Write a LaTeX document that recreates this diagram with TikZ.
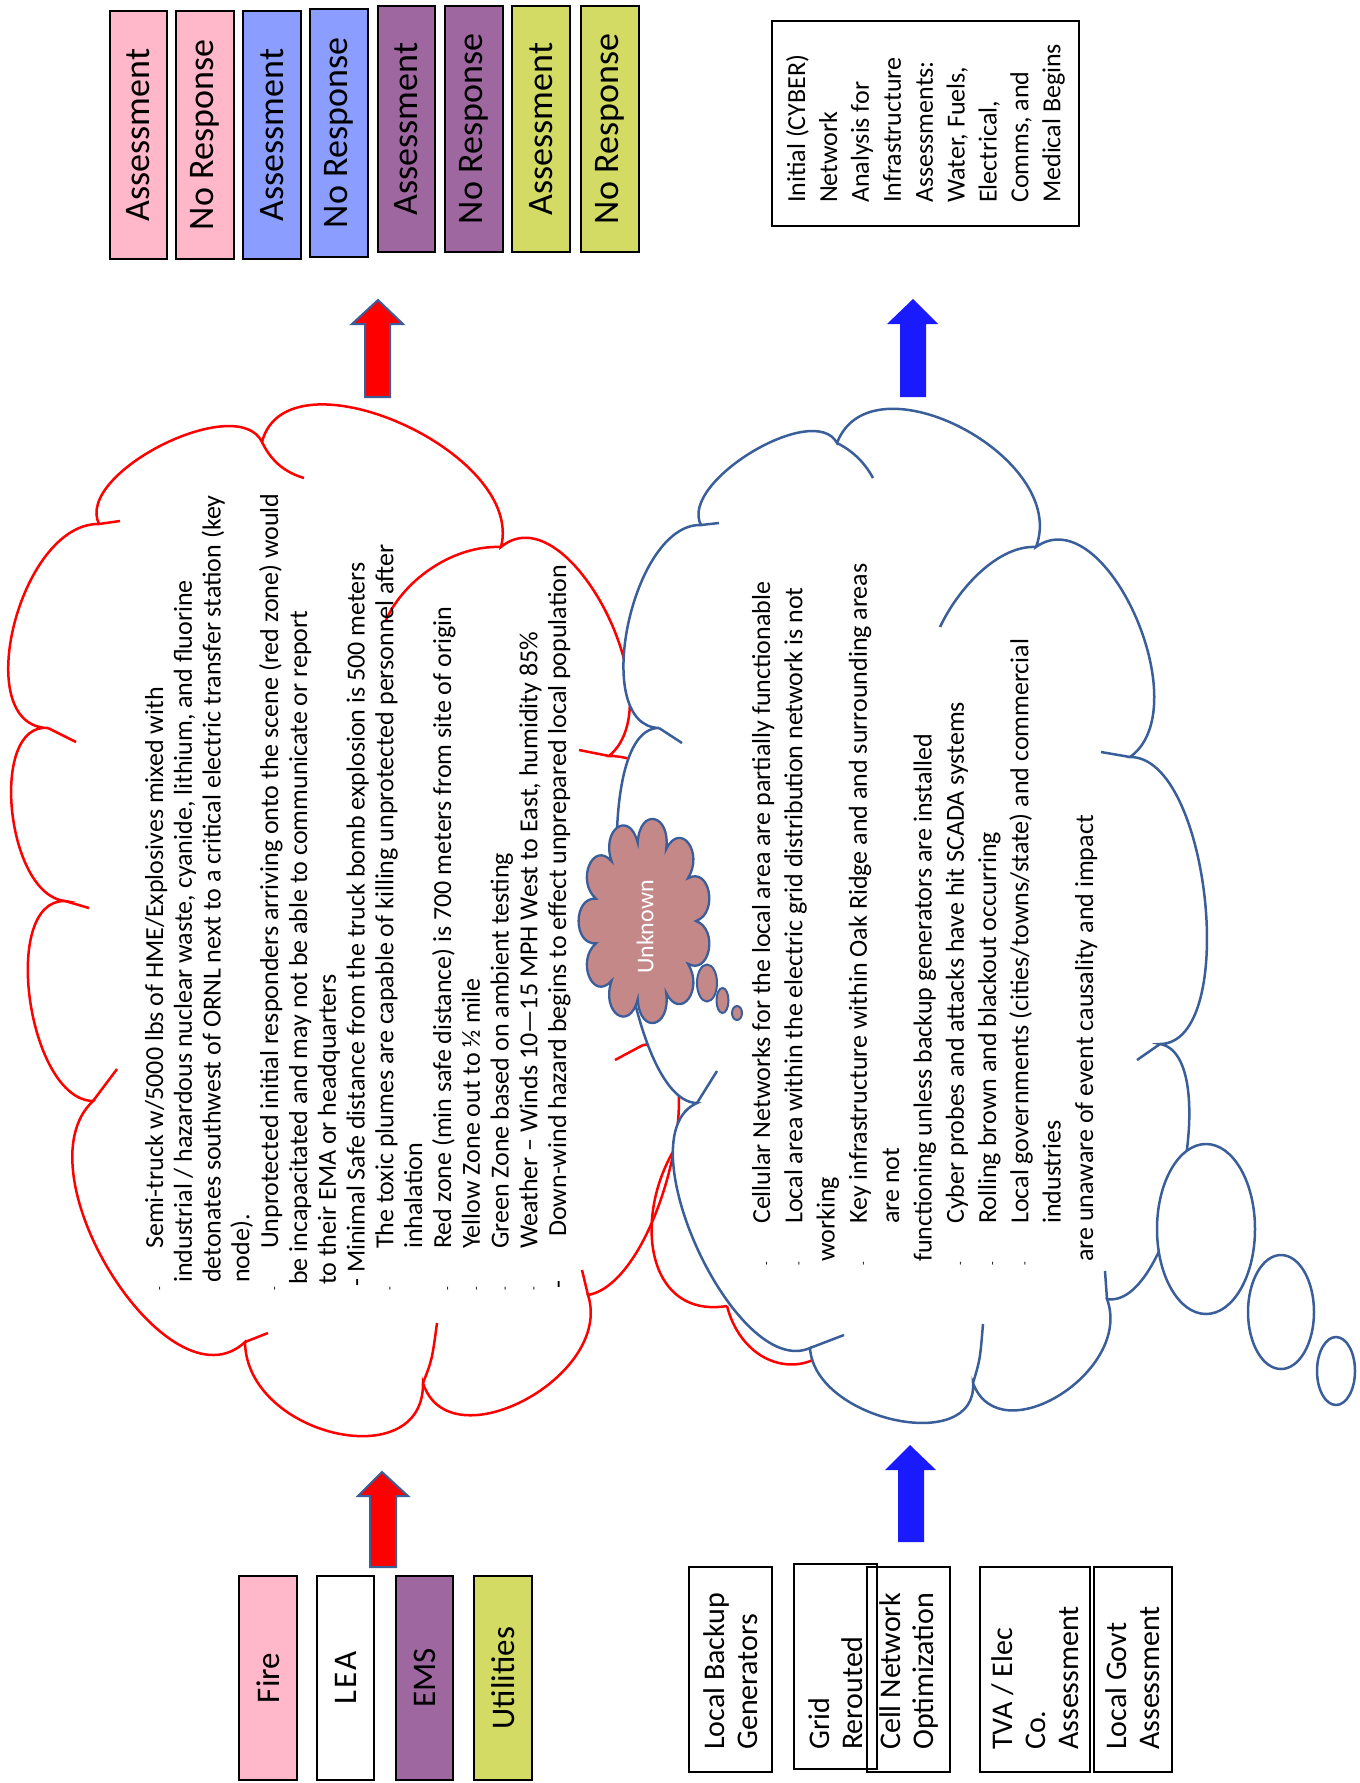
\documentclass[tikz,border=0pt]{standalone}
\usepackage{fontspec}
\setmainfont{Carlito}
\usetikzlibrary{calc}
\definecolor{pinkc}{RGB}{255,183,201}
\definecolor{bluec}{RGB}{139,158,255}
\definecolor{purplec}{RGB}{158,103,160}
\definecolor{yellowc}{RGB}{211,219,100}
\definecolor{cloudblue}{RGB}{58,94,154}
\definecolor{unkc}{RGB}{197,136,136}
\definecolor{arrowblue}{RGB}{26,26,255}
\newcommand\lobe[3]{.. controls ($0.3333*(#1)+1.3333*(#2)-0.6667*(#3)$) and ($0.3333*(#3)+1.3333*(#2)-0.6667*(#1)$) .. (#3)}
\newcommand\puffcloud[6]{\path[#1] ({#2+#4},{#3}) \foreach \k in {1,...,#6}{ .. controls ({#2+1.45*#4*cos((\k-1)*360/#6+4)},{#3+1.45*#5*sin((\k-1)*360/#6+4)}) and ({#2+1.45*#4*cos(\k*360/#6-4)},{#3+1.45*#5*sin(\k*360/#6-4)}) .. ({#2+#4*cos(\k*360/#6)},{#3+#5*sin(\k*360/#6)}) } -- cycle;}
\tikzset{
 boxst/.style={draw=black, line width=2.3pt, rotate=90, inner sep=0pt},
 ln/.style={rotate=90, anchor=base west, inner sep=0pt, font=\fontsize{26}{30}\selectfont},
 bu/.style={rotate=90, anchor=base west, inner sep=0pt, font=\fontsize{12}{14}\selectfont},
 redl/.style={draw=red, line width=2.5pt},
 bluel/.style={draw=cloudblue, line width=2.5pt},
 mtext/.style={rotate=90, anchor=west, inner sep=0pt, align=left},
}
\begin{document}
\begin{tikzpicture}[x=1pt,y=-1pt]
\useasboundingbox[fill=white] (0,0) rectangle (1360,1783);

% ---------- red cloud ----------
\coordinate (R1) at (99,524);   \coordinate (rmA) at (162,445);
\coordinate (R2) at (262,442);  \coordinate (rmB) at (400,423);
\coordinate (R3) at (501,547);  \coordinate (rmC) at (605,610);
\coordinate (R4) at (609,756);  \coordinate (rmD) at (715,900);
\coordinate (R8) at (643,1045); \coordinate (rm7) at (672,1160);
\coordinate (R7) at (588,1295); \coordinate (rm6) at (525,1400);
\coordinate (R6) at (423,1383); \coordinate (rm5) at (335,1433);
\coordinate (R5) at (245,1342); \coordinate (rm4) at (112,1275);
\coordinate (R9) at (93,1101);  \coordinate (rm3) at (30,1000);
\coordinate (R10) at (65,901);  \coordinate (rm2) at (12,810);
\coordinate (R0) at (48,728);   \coordinate (rm1) at (14,625);
\draw[redl] (R1) \lobe{R1}{rmA}{R2} \lobe{R2}{rmB}{R3} \lobe{R3}{rmC}{R4} \lobe{R4}{rmD}{R8} \lobe{R8}{rm7}{R7} \lobe{R7}{rm6}{R6} \lobe{R6}{rm5}{R5} \lobe{R5}{rm4}{R9} \lobe{R9}{rm3}{R10} \lobe{R10}{rm2}{R0} \lobe{R0}{rm1}{R1};
\draw[redl] (R1) -- (120,521);
\draw[redl] (R2) .. controls (272,463) and (287,473) .. (304,478);
\draw[redl] (386,620) .. controls (405,578) and (455,545) .. (R3);
\draw[redl] (R4) -- (579,750);
\draw[redl] (R8) -- (615,1060);
\draw[redl] (R7) -- (582,1270);
\draw[redl] (R6) .. controls (432,1360) .. (437,1323);
\draw[redl] (R5) -- (268,1333);
\draw[redl] (R9) -- (117,1069);
\draw[redl] (R10) -- (89,908);
\draw[redl] (R0) -- (76,742);
\draw[redl] (688,1130) .. controls (630,1200) and (640,1320) .. (727,1306);
\draw[redl] (727,1306) .. controls (745,1375) and (820,1385) .. (845,1325);

% red cloud text
\node[bu] (rb1) at (163,1291) {-};
\node[ln] (r1) at (163,1249) {Semi-truck w/5000 lbs of HME/Explosives mixed with};
\node[ln] (r2) at (191.8,1283) {industrial / hazardous nuclear waste, cyanide, lithium, and fluorine};
\node[ln] (r3) at (220.6,1283) {detonates southwest of ORNL next to a critical electric transfer station (key};
\node[ln] (r4) at (249.4,1283) {node).};
\node[bu] (rb5) at (278.2,1291) {-};
\node[ln] (r5) at (278.2,1249) {Unprotected initial responders arriving onto the scene (red zone) would};
\node[ln] (r6) at (307,1285) {be incapacitated and may not be able to communicate or report};
\node[ln] (r7) at (335.8,1285) {to their EMA or headquarters};
\node[ln] (r8) at (364.6,1287) {- Minimal Safe distance from the truck bomb explosion is 500 meters};
\node[bu] (rb9) at (393.4,1291) {-};
\node[ln] (r9) at (393.4,1249) {The toxic plumes are capable of killing unprotected personnel after};
\node[ln] (r10) at (422.2,1249) {inhalation};
\node[bu] (rb11) at (451,1291) {-};
\node[ln] (r11) at (451,1249) {Red zone (min safe distance) is 700 meters from site of origin};
\node[bu] (rb12) at (479.8,1291) {-};
\node[ln] (r12) at (479.8,1249) {Yellow Zone out to ½ mile};
\node[bu] (rb13) at (508.6,1291) {-};
\node[ln] (r13) at (508.6,1249) {Green Zone based on ambient testing};
\node[bu] (rb14) at (537.4,1291) {-};
\node[ln] (r14) at (537.4,1249) {Weather – Winds 10—15 MPH West to East, humidity 85\%};
\node[ln] (rb15) at (566.2,1289) {-};
\node[ln] (r15) at (566.2,1237) {Down-wind hazard begins to effect unprepared local population};

% ---------- blue cloud ----------
\coordinate (B1) at (701,525);   \coordinate (bm2) at (752,452);
\coordinate (B2) at (837,443);   \coordinate (bm3) at (962,428);
\coordinate (B3) at (1036,547);  \coordinate (bm4) at (1135,615);
\coordinate (B4) at (1130,757);  \coordinate (bm10) at (1205,900);
\coordinate (Be) at (1160,1044); \coordinate (bm9) at (1182,1180);
\coordinate (Bd) at (1107,1299); \coordinate (bm8) at (1060,1395);
\coordinate (Bc) at (973,1383);  \coordinate (bm7) at (895,1420);
\coordinate (Bb) at (810,1348);  \coordinate (bm6) at (698,1250);
\coordinate (Ba) at (697,1103);  \coordinate (bm0) at (620,915);
\coordinate (B0) at (659,728);   \coordinate (bm1) at (628,625);
\filldraw[bluel, fill=white] (B1) \lobe{B1}{bm2}{B2} \lobe{B2}{bm3}{B3} \lobe{B3}{bm4}{B4} \lobe{B4}{bm10}{Be} \lobe{Be}{bm9}{Bd} \lobe{Bd}{bm8}{Bc} \lobe{Bc}{bm7}{Bb} \lobe{Bb}{bm6}{Ba} \lobe{Ba}{bm0}{B0} \lobe{B0}{bm1}{B1} -- cycle;
\draw[bluel] (B1) -- (719,523);
\draw[bluel] (B2) .. controls (855,452) and (866,465) .. (873,478);
\draw[bluel] (940,627) .. controls (960,585) and (1000,545) .. (B3);
\draw[bluel] (B4) -- (1101,752);
\draw[bluel] (Be) -- (1137,1060);
\draw[bluel] (Bd) -- (1105,1271);
\draw[bluel] (Bc) .. controls (980,1360) .. (983,1324);
\draw[bluel] (Bb) -- (844,1335);
\draw[bluel] (Ba) -- (717,1071);
\draw[bluel] (B0) -- (682,743);

% blue cloud text
\node[bu] (bb1) at (770,1266) {-};
\node[ln] (b1) at (770,1224) {Cellular Networks for the local area are partially functionable};
\node[bu] (bb2) at (802.3,1266) {-};
\node[ln] (b2) at (802.3,1224) {Local area within the electric grid distribution network is not};
\node[ln] (b3) at (834.6,1262) {working};
\node[bu] (bb4) at (866.9,1266) {-};
\node[ln] (b4) at (866.9,1224) {Key infrastructure within Oak Ridge and and surrounding areas};
\node[ln] (b5) at (899.2,1224) {are not};
\node[ln] (b6) at (931.5,1262) {functioning unless backup generators are installed};
\node[bu] (bb7) at (963.8,1266) {-};
\node[ln] (b7) at (963.8,1224) {Cyber probes and attacks have hit SCADA systems};
\node[bu] (bb8) at (996.1,1266) {-};
\node[ln] (b8) at (996.1,1224) {Rolling brown and blackout occurring};
\node[bu] (bb9) at (1028.4,1266) {-};
\node[ln] (b9) at (1028.4,1224) {Local governments (cities/towns/state) and commercial};
\node[ln] (b10) at (1060.7,1224) {industries};
\node[ln] (b11) at (1093,1262) {are unaware of event causality and impact};

% thought ellipses of blue cloud
\filldraw[bluel, fill=white] (1206,1229) ellipse [x radius=49pt, y radius=85pt];
\filldraw[bluel, fill=white] (1281,1312) ellipse [x radius=33pt, y radius=57pt];
\filldraw[bluel, fill=white] (1336,1371) ellipse [x radius=19pt, y radius=34pt];

% ---------- Unknown cloud ----------
\puffcloud{fill=unkc, draw=cloudblue, line width=2.3pt}{645}{921}{51}{79}{11}
\filldraw[fill=unkc, draw=cloudblue, line width=2pt] (707,983) ellipse [x radius=10pt, y radius=18.5pt];
\filldraw[fill=unkc, draw=cloudblue, line width=2pt] (722.5,1000.5) ellipse [x radius=6pt, y radius=12.5pt];
\filldraw[fill=unkc, draw=cloudblue, line width=2pt] (737,1013) ellipse [x radius=5pt, y radius=7pt];
\node[rotate=90, text=white, inner sep=0pt, font=\fontsize{24}{28}\selectfont] (unk) at (645,927) {Unknown};

% ---------- arrows ----------
\filldraw[fill=red, draw=cloudblue, line width=2pt] (365,397) -- (365,324) -- (352,324) -- (378,300) -- (403,324) -- (390,324) -- (390,397) -- cycle;
\filldraw[fill=red, draw=cloudblue, line width=2pt] (370,1567) -- (370,1496) -- (358,1496) -- (382,1472) -- (408,1496) -- (396,1496) -- (396,1567) -- cycle;
\fill[arrowblue] (900,397) -- (900,324) -- (887,324) -- (913,299) -- (938,324) -- (926,324) -- (926,397) -- cycle;
\fill[arrowblue] (898,1542) -- (898,1470) -- (885,1470) -- (910,1445) -- (936,1470) -- (924,1470) -- (924,1542) -- cycle;

% ---------- top boxes ----------
\begin{scope}[every node/.append style={font=\fontsize{36}{40}\selectfont}]
\node[boxst, fill=pinkc, minimum width=248pt, minimum height=57pt] (t1) at (138.5,135) {Assessment};
\node[boxst, fill=pinkc, minimum width=248pt, minimum height=58pt] (t2) at (205,135) {No Response};
\node[boxst, fill=bluec, minimum width=248pt, minimum height=58pt] (t3) at (272,135) {Assessment};
\node[boxst, fill=bluec, minimum width=248pt, minimum height=58pt] (t4) at (339,133) {No Response};
\node[boxst, fill=purplec, minimum width=246pt, minimum height=57pt] (t5) at (406.5,129) {Assessment};
\node[boxst, fill=purplec, minimum width=246pt, minimum height=58pt] (t6) at (474,129) {No Response};
\node[boxst, fill=yellowc, minimum width=246pt, minimum height=58pt] (t7) at (541,129) {Assessment};
\node[boxst, fill=yellowc, minimum width=246pt, minimum height=58pt] (t8) at (610,129) {No Response};
\end{scope}

% Initial box
\node[boxst, minimum width=205pt, minimum height=307pt] (initbox) at (925.5,123.5) {};
\node[mtext, font=\fontsize{26}{31.9}\selectfont] (inittext) at (925.5,203) {Initial (CYBER)\\Network\\Analysis for\\Infrastructure\\Assessments:\\Water, Fuels,\\Electrical,\\Comms, and\\Medical Begins};

% ---------- bottom-left boxes ----------
\begin{scope}[every node/.append style={font=\fontsize{33}{38}\selectfont}]
\node[boxst, fill=pinkc, minimum width=204pt, minimum height=58pt] (fire) at (268,1678) {Fire};
\node[boxst, fill=white, minimum width=204pt, minimum height=57pt] (lea) at (345.5,1678) {L\kern2pt E\kern2pt A};
\node[boxst, fill=purplec, minimum width=204pt, minimum height=57pt] (ems) at (424.5,1678) {EMS};
\node[boxst, fill=yellowc, minimum width=204pt, minimum height=58pt] (util) at (503,1678) {Utilities};
\end{scope}

% ---------- bottom-right boxes ----------
\node[boxst, minimum width=205pt, minimum height=83pt] (g1) at (730.5,1669.5) {};
\node[boxst, minimum width=205pt, minimum height=83pt] (g2) at (835.5,1666.5) {};
\node[boxst, minimum width=205pt, minimum height=83pt] (g3) at (908.5,1669.5) {};
\node[boxst, minimum width=205pt, minimum height=110pt] (g4) at (1035,1669.5) {};
\node[boxst, minimum width=205pt, minimum height=78pt] (g5) at (1133,1669.5) {};
\begin{scope}[every node/.append style={font=\fontsize{30}{33}\selectfont}]
\node[mtext] (g1t) at (730.5,1750) {Local Backup\\Generators};
\node[mtext] (g2t) at (835.5,1750) {Grid\\Rerouted};
\node[mtext] (g3t) at (908.5,1750) {Cell Network\\Optimization};
\node[mtext] (g4t) at (1035,1750) {TVA / Elec\\Co.\\Assessment};
\node[mtext] (g5t) at (1133,1750) {Local Govt\\Assessment};
\end{scope}
\end{tikzpicture}
\end{document}
